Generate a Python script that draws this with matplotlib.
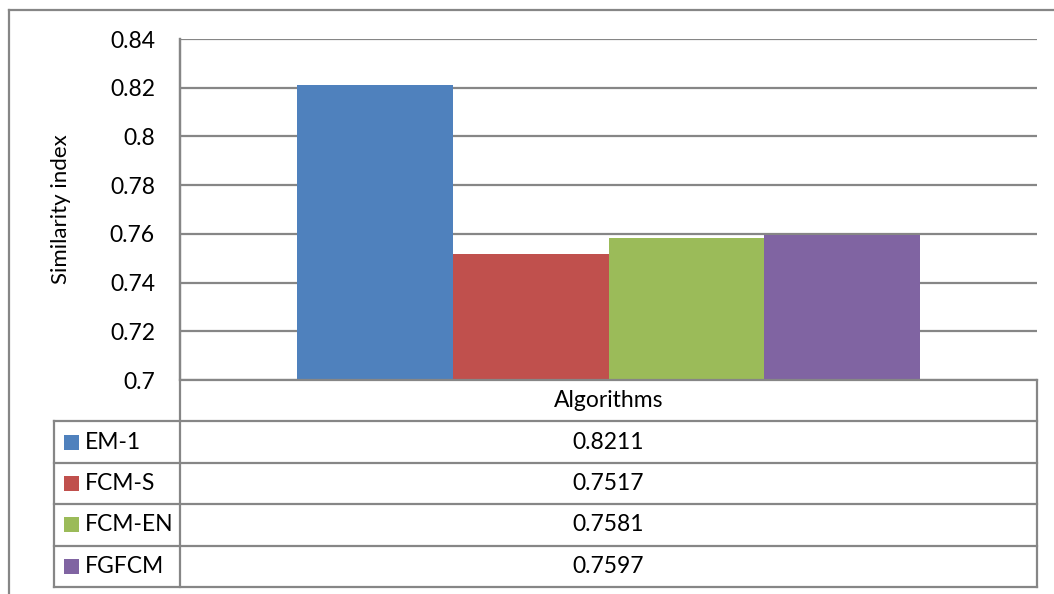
import matplotlib
matplotlib.use("Agg")
import matplotlib.pyplot as plt
from matplotlib.patches import Rectangle
from matplotlib.lines import Line2D

algorithms = ["EM-1", "FCM-S", "FCM-EN", "FGFCM"]
similarity = [0.8211, 0.7517, 0.7581, 0.7597]
colors = ["#4F81BD", "#C0504D", "#9BBB59", "#8064A2"]
category_label = "Algorithms"
y_label = "Similarity index"
y_ticks = [0.7, 0.72, 0.74, 0.76, 0.78, 0.8, 0.82, 0.84]
y_tick_labels = ["0.7", "0.72", "0.74", "0.76", "0.78", "0.8", "0.82", "0.84"]

plt.rcParams["font.family"] = ["Lato", "DejaVu Sans"]
W, H = 1054, 594
fig = plt.figure(figsize=(W / 100, H / 100), dpi=100)
GRID = "#868686"
FS = 16.5


def fx(px):
    return px / W


def fy(py):
    return 1 - py / H


# plot area
left, right, top, bottom = 180, 1037, 39, 380
ax = fig.add_axes([fx(left), fy(bottom), fx(right - left), (bottom - top) / H])
n = len(algorithms)
gap = 1.5  # gap width relative to one bar
bw = 1.0 / (n + gap)
offsets = [(-n / 2 + i + 0.5) * bw for i in range(n)]
for i, (name, val, col) in enumerate(zip(algorithms, similarity, colors)):
    ax.bar(offsets[i], val - 0.7, bottom=0.7, width=bw, color=col, zorder=3,
           linewidth=0)
ax.set_xlim(-0.5, 0.5)
ax.set_ylim(0.7, 0.84)
ax.set_yticks(y_ticks)
ax.set_yticklabels(y_tick_labels, fontsize=FS)
ax.tick_params(axis="y", length=0, pad=18)
ax.set_xticks([])
ax.yaxis.grid(True, color=GRID, linewidth=1.6, zorder=0)
for s in ["top", "right", "bottom"]:
    ax.spines[s].set_visible(False)
ax.spines["left"].set_color(GRID)
ax.spines["left"].set_linewidth(1.6)
ax.set_facecolor("none")
fig.text(fx(61), fy((top + bottom) / 2), y_label, rotation=90, ha="center",
         va="center", fontsize=16)

# data table below the plot area
tab_left = 54
row_h = 41.4
rows_top = bottom + row_h
tab_bottom = rows_top + n * row_h
lines = []
# horizontal rules
lines.append(((left, right), (bottom, bottom)))
for k in range(n + 1):
    yy = rows_top + k * row_h
    lines.append(((tab_left, right), (yy, yy)))
# vertical rules
lines.append(((left, left), (top, tab_bottom)))
lines.append(((right, right), (bottom, tab_bottom)))
lines.append(((tab_left, tab_left), (rows_top, tab_bottom)))
for xs, ys in lines:
    fig.add_artist(Line2D([fx(x) for x in xs], [fy(y) for y in ys],
                          color=GRID, linewidth=1.6))

center_x = (left + right) / 2
fig.text(fx(center_x), fy(bottom + row_h / 2), category_label, ha="center",
         va="center", fontsize=FS)
for k, (name, val, col) in enumerate(zip(algorithms, similarity, colors)):
    yc = rows_top + (k + 0.5) * row_h
    fig.add_artist(Rectangle((fx(64), fy(yc + 7.5)), fx(15), 15 / H,
                             facecolor=col, edgecolor="none"))
    fig.text(fx(85), fy(yc), name, ha="left", va="center", fontsize=FS)
    fig.text(fx(center_x), fy(yc), f"{val:.4f}", ha="center", va="center",
             fontsize=FS)

# chart border
fig.add_artist(Line2D([fx(9), fx(9)], [fy(10), 0], color=GRID, linewidth=1.6))
fig.add_artist(Line2D([fx(9), 1], [fy(10), fy(10)], color=GRID, linewidth=1.6))

fig.savefig("out.png", dpi=100)
